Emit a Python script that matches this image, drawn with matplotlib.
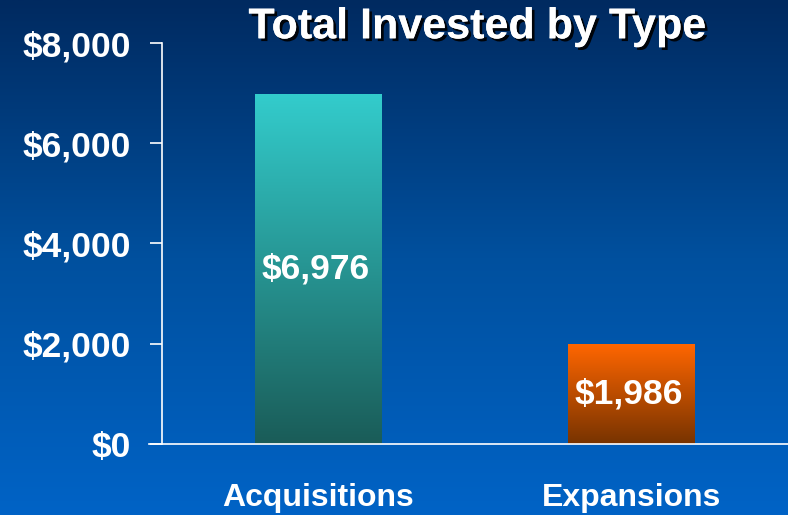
import matplotlib.pyplot as plt
import matplotlib.patheffects as pe
import numpy as np
from matplotlib.colors import LinearSegmentedColormap

categories = ["Acquisitions", "Expansions"]
values = [6976, 1986]
value_labels = ["$6,976", "$1,986"]
y_ticks = [0, 2000, 4000, 6000, 8000]
y_tick_labels = ["$0", "$2,000", "$4,000", "$6,000", "$8,000"]

# bar gradients: (bottom colour, top colour)
bar_grads = [("#1a5c58", "#33cccc"), ("#773300", "#ff6600")]

plt.rcParams["font.family"] = ["Liberation Sans", "DejaVu Sans"]
plt.rcParams["font.weight"] = "bold"

fig = plt.figure(figsize=(7.88, 5.15), dpi=100)

# background gradient, dark navy at top to bright blue at bottom
bg = fig.add_axes([0, 0, 1, 1], zorder=0)
bg_cmap = LinearSegmentedColormap.from_list("bg", ["#0063c6", "#00509e", "#002a60"])
bg.imshow(np.linspace(0, 1, 256).reshape(-1, 1)[::-1], aspect="auto", cmap=bg_cmap,
          extent=(0, 1, 0, 1), origin="upper")
bg.axis("off")

ax = fig.add_axes([0.2056, 0.1379, 0.7944, 0.7786], zorder=1)
ax.set_facecolor("none")

x = np.arange(len(categories))
bars = ax.bar(x, values, width=0.405, color="none", edgecolor="none")
grad = np.linspace(0, 1, 256).reshape(-1, 1)
for bar, (c0, c1), lab in zip(bars, bar_grads, value_labels):
    cm = LinearSegmentedColormap.from_list("b", [c0, c1])
    x0, w, h = bar.get_x(), bar.get_width(), bar.get_height()
    im = ax.imshow(grad, aspect="auto", cmap=cm, origin="lower",
                   extent=(x0, x0 + w, 0, h), zorder=2)
    im.set_clip_path(bar)
    ax.text(x0 + w / 2 - 0.01, h / 2, lab, ha="center", va="center",
            color="white", fontsize=25.5, fontweight="bold", zorder=3)

ax.set_xlim(-0.5, 1.5)
ax.set_ylim(0, 8000)
ax.set_yticks(y_ticks)
ax.set_yticklabels(y_tick_labels)
ax.set_xticks(x)
ax.set_xticklabels(categories)
ax.tick_params(axis="y", colors="white", length=8.6, width=1.2, labelsize=25.5, pad=14)
ax.tick_params(axis="x", colors="white", length=0, labelsize=23, pad=28)
for lbl in ax.get_xticklabels() + ax.get_yticklabels():
    lbl.set_fontweight("bold")

for side in ["top", "right"]:
    ax.spines[side].set_visible(False)
ax.spines["left"].set_color("white")
ax.spines["left"].set_linewidth(1.2)
ax.spines["bottom"].set_color("white")
ax.spines["bottom"].set_linewidth(1.2)
ax.spines["bottom"].set_bounds(-0.54, 1.5)
ax.spines["bottom"].set_clip_on(False)

fig.text(0.605, 0.947, "Total Invested by Type", ha="center", va="center",
         color="white", fontsize=31, fontweight="bold",
         path_effects=[pe.withSimplePatchShadow(offset=(2, -2), shadow_rgbFace="black", alpha=0.9),
                       pe.Normal()])

fig.savefig("out.png", dpi=100)
